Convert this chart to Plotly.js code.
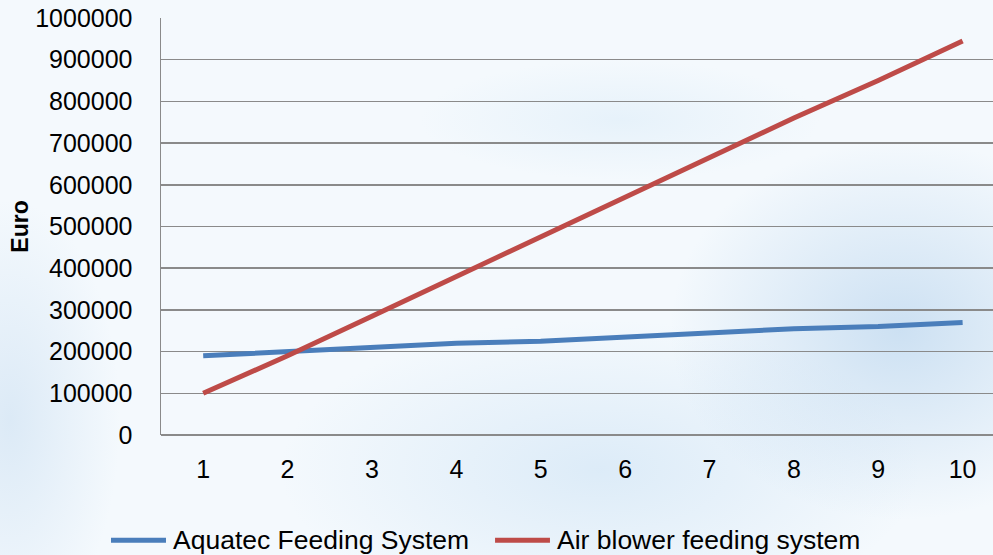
<!DOCTYPE html>
<html>
<head>
<meta charset="utf-8">
<script src="https://cdn.plot.ly/plotly-3.0.1.min.js"></script>
<style>
  html, body { margin: 0; padding: 0; }
  body {
    width: 993px; height: 555px; overflow: hidden;
    background:
      radial-gradient(ellipse 230px 190px at 900px 330px, rgba(165,200,232,0.5), rgba(165,200,232,0) 100%),
      radial-gradient(ellipse 320px 150px at 600px 470px, rgba(185,215,240,0.4), rgba(185,215,240,0) 100%),
      radial-gradient(ellipse 110px 220px at 10px 420px, rgba(190,215,238,0.45), rgba(190,215,238,0) 100%),
      radial-gradient(ellipse 200px 60px at 620px 120px, rgba(205,228,245,0.35), rgba(205,228,245,0) 100%),
      #f4f9fd;
  }
  #chart { width: 993px; height: 555px; }
</style>
</head>
<body>
<div id="chart"></div>
<script>
const years = [1, 2, 3, 4, 5, 6, 7, 8, 9, 10];
const aquatec = [190000, 200000, 210000, 220000, 225000, 235000, 245000, 255000, 260000, 270000];
const airBlower = [100000, 190000, 285000, 380000, 475000, 570000, 665000, 760000, 850000, 945000];
const yTicks = [0, 100000, 200000, 300000, 400000, 500000, 600000, 700000, 800000, 900000, 1000000];
const seriesNames = ['Aquatec Feeding System', 'Air blower feeding system'];
const seriesColors = ['#4A7EBB', '#BE4B48'];

const traces = [
  { x: years, y: aquatec, name: seriesNames[0], type: 'scatter', mode: 'lines',
    line: { color: seriesColors[0], width: 5 }, hoverinfo: 'skip' },
  { x: years, y: airBlower, name: seriesNames[1], type: 'scatter', mode: 'lines',
    line: { color: seriesColors[1], width: 5 }, hoverinfo: 'skip' }
];

const font = 'Liberation Sans, Arial, sans-serif';

const layout = {
  width: 993, height: 555,
  margin: { l: 161, r: 0, t: 18, b: 120, pad: 0 },
  paper_bgcolor: 'rgba(0,0,0,0)',
  plot_bgcolor: 'rgba(0,0,0,0)',
  showlegend: false,
  font: { family: font, size: 25, color: '#000' },
  xaxis: {
    range: [0.5, 10.36], tickvals: years, ticktext: years.map(String),
    showgrid: false, zeroline: false, showline: false,
    ticks: '', ticklabelstandoff: 17,
    tickfont: { family: font, size: 25, color: '#000' },
    fixedrange: true
  },
  yaxis: {
    range: [0, 1000000], tickvals: yTicks, ticktext: yTicks.map(String),
    showgrid: true, gridcolor: '#8a8a8a', gridwidth: 1.5,
    zeroline: true, zerolinecolor: '#8a8a8a', zerolinewidth: 1.5,
    showline: true, linecolor: '#8a8a8a', linewidth: 1.5,
    ticks: '', ticklabelstandoff: 22,
    tickfont: { family: font, size: 25, color: '#000' },
    title: { text: '<b>Euro</b>', font: { family: font, size: 23, color: '#000' }, standoff: 0 },
    automargin: false,
    fixedrange: true
  },
  shapes: [
    { type: 'line', xref: 'paper', yref: 'paper', x0: -0.0601, x1: 0.0060, y0: -0.2525, y1: -0.2525,
      line: { color: seriesColors[0], width: 5 } },
    { type: 'line', xref: 'paper', yref: 'paper', x0: 0.4015, x1: 0.4675, y0: -0.2525, y1: -0.2525,
      line: { color: seriesColors[1], width: 5 } }
  ],
  annotations: [
    { text: seriesNames[0], xref: 'paper', yref: 'paper', x: 0.0120, y: -0.2525,
      xanchor: 'left', yanchor: 'middle', showarrow: false,
      font: { family: font, size: 26.5, color: '#000' } },
    { text: seriesNames[1], xref: 'paper', yref: 'paper', x: 0.4735, y: -0.2525,
      xanchor: 'left', yanchor: 'middle', showarrow: false,
      font: { family: font, size: 26.5, color: '#000' } }
  ]
};

Plotly.newPlot('chart', traces, layout, { displayModeBar: false, staticPlot: true });
</script>
</body>
</html>
